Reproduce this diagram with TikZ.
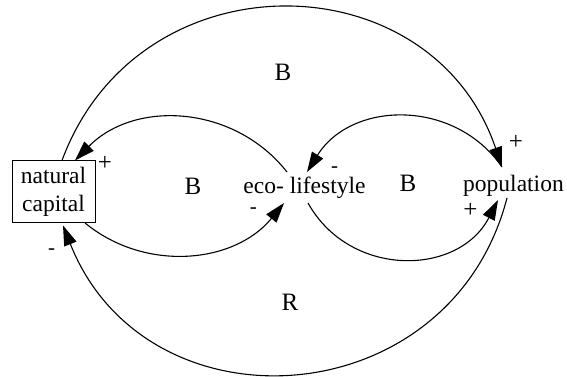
\documentclass[tikz,border=0pt]{standalone}
\usepackage{fontspec}
\setmainfont{Liberation Serif}
\usetikzlibrary{arrows.meta}
\tikzset{
  link/.style={line width=1.1pt, -{Triangle[length=20pt,width=13pt]}},
  var/.style={inner sep=0pt, font=\fontsize{23.5}{27.5}\selectfont},
  loop/.style={inner sep=0pt, font=\fontsize{25}{28}\selectfont},
  sign/.style={inner sep=0pt, font=\fontsize{25}{27}\selectfont},
  minus/.style={inner sep=0pt, font=\fontsize{21}{23}\selectfont},
}
\begin{document}
\begin{tikzpicture}[x=1pt,y=-1pt]
\useasboundingbox (0,0) rectangle (567,376);
% variables
\node[var, draw, line width=1pt, minimum width=83pt, minimum height=61.5pt, align=center] (nc) at (53.5,191.7) {natural\\capital};
\node[var, anchor=base] (eco) at (304.5,193.3) {eco- lifestyle};
\node[var, anchor=base] (pop) at (513.5,191.7) {population};
% connector end points
\coordinate (ncA) at ([xshift=8.5pt]nc.north);
\coordinate (ncB) at ([xshift=21.5pt]nc.north);
\coordinate (ncC) at ([xshift=31.5pt]nc.south);
\coordinate (ncD) at ([xshift=9.5pt,yshift=-2.5pt]nc.south);
\coordinate (ecoA) at ([xshift=-17.5pt,yshift=21.3pt]eco.base);
\coordinate (ecoB) at ([xshift=2.5pt,yshift=21.3pt]eco.base);
\coordinate (ecoC) at ([xshift=-20.5pt,yshift=-9.7pt]eco.base);
\coordinate (ecoD) at ([xshift=3.5pt,yshift=-9.7pt]eco.base);
\coordinate (popA) at ([xshift=-11.5pt,yshift=24.7pt]pop.base);
\coordinate (popC) at ([xshift=-15.5pt,yshift=-8.3pt]pop.base);
\coordinate (popD) at ([xshift=-6.5pt,yshift=-6.3pt]pop.base);
% connectors
\draw[link] (ncA) .. controls (138.5,-46) and (431.5,-41) .. (popA);
\draw[link] (popD) .. controls (450,417) and (146.3,435.5) .. (ncD);
\draw[link] (ecoA) .. controls (234.3,105) and (135,99.4) .. (ncB);
\draw[link] (ncC) .. controls (145.4,272.6) and (234.6,263.6) .. (ecoC);
\draw[link] (popA) .. controls (454.2,98.2) and (351.3,100.9) .. (ecoB);
\draw[link] (ecoD) .. controls (349.9,278.2) and (458.5,276.5) .. (popC);
% polarity signs
\node[sign] (s1) at (105,163.5) {+};
\node[minus, anchor=base] (s2) at (51.7,254.8) {-};
\node[minus, anchor=base] (s3) at (253.3,213.1) {-};
\node[minus, anchor=base] (s4) at (334.5,172.1) {-};
\node[sign] (s5) at (515.8,142.5) {+};
\node[sign] (s6) at (470.5,210) {+};
% loop labels
\node[loop, anchor=base] (l1) at (283,80) {B};
\node[loop, anchor=base] (l2) at (193,194) {B};
\node[loop, anchor=base] (l3) at (408,191) {B};
\node[loop, anchor=base] (l4) at (290,310) {R};
\end{tikzpicture}
\end{document}
